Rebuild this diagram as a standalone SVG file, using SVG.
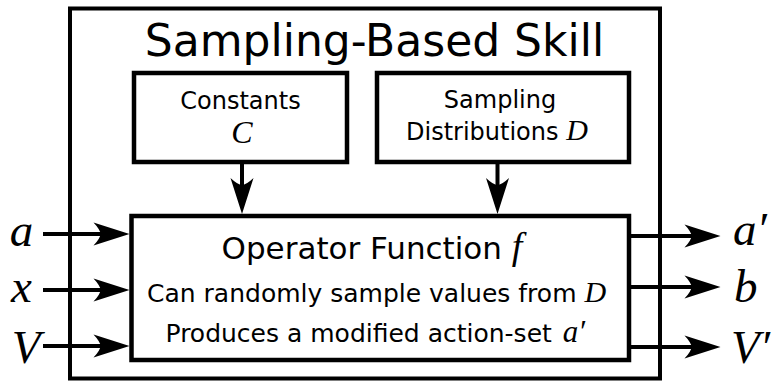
<svg xmlns="http://www.w3.org/2000/svg" xmlns:xlink="http://www.w3.org/1999/xlink" width="782" height="381" viewBox="0 0 782 381">
  <style>
    .box { fill: #ffffff; stroke: #000000; stroke-width: 4.5; }
    .outer { fill: none; stroke: #000000; stroke-width: 4; }
    .line { fill: none; stroke: #000000; stroke-width: 4; }
    .sans { font-family: "DejaVu Sans", sans-serif; fill: #000000; }
    .math { font-family: "Liberation Serif", serif; font-style: italic; fill: #000000; }
  </style>
  <defs>
    <path id="ah" d="M0,0 L-36,-11.5 Q-29,-4 -29,0 Q-29,4 -36,11.5 Z" fill="#000000"/>
  </defs>
  <rect x="0" y="0" width="782" height="381" fill="#ffffff"/>

  <g id="skill">
    <rect class="outer" x="70" y="8.5" width="590" height="370"/>
    <text class="sans" x="374.5" y="56" font-size="44" text-anchor="middle">Sampling-Based Skill</text>
  </g>

  <g id="connectors">
    <line class="line" x1="242" y1="164" x2="242" y2="186"/>
    <use xlink:href="#ah" transform="translate(242,214) rotate(90)"/>
    <line class="line" x1="497.5" y1="164" x2="497.5" y2="186"/>
    <use xlink:href="#ah" transform="translate(497.5,214) rotate(90)"/>

    <line class="line" x1="43" y1="234" x2="101" y2="234"/>
    <use xlink:href="#ah" transform="translate(129.5,234)"/>
    <line class="line" x1="43" y1="290" x2="101" y2="290"/>
    <use xlink:href="#ah" transform="translate(129.5,290)"/>
    <line class="line" x1="43" y1="346" x2="101" y2="346"/>
    <use xlink:href="#ah" transform="translate(129.5,346)"/>

    <line class="line" x1="629" y1="236" x2="692" y2="236"/>
    <use xlink:href="#ah" transform="translate(720.5,236)"/>
    <line class="line" x1="629" y1="287" x2="692" y2="287"/>
    <use xlink:href="#ah" transform="translate(720.5,287)"/>
    <line class="line" x1="629" y1="347" x2="692" y2="347"/>
    <use xlink:href="#ah" transform="translate(720.5,347)"/>
  </g>

  <g id="constants">
    <rect class="box" x="134" y="73" width="213" height="89"/>
    <text class="sans" x="240.5" y="109" font-size="24" text-anchor="middle">Constants</text>
    <text class="math" x="242" y="143" font-size="32" text-anchor="middle">C</text>
  </g>

  <g id="distributions">
    <rect class="box" x="377" y="73" width="252" height="89"/>
    <text class="sans" x="500" y="108" font-size="24" text-anchor="middle">Sampling</text>
    <text class="sans" x="406" y="140" font-size="24">Distributions <tspan class="math" font-size="30">D</tspan></text>
  </g>

  <g id="operator">
    <rect class="box" x="131.5" y="216" width="497.5" height="144"/>
    <text class="sans" x="221.5" y="259" font-size="31">Operator Function <tspan class="math" font-size="38">f</tspan></text>
    <text class="sans" x="147" y="302" font-size="25">Can randomly sample values from <tspan class="math" font-size="30">D</tspan></text>
    <text class="sans" x="165.5" y="341.5" font-size="25">Produces a modified action-set <tspan class="math" font-size="31" dx="3">a′</tspan></text>
  </g>

  <g id="inputs">
    <text class="math" x="21.5" y="246" font-size="47" text-anchor="middle">a</text>
    <text class="math" x="21.5" y="301.5" font-size="47" text-anchor="middle">x</text>
    <text class="math" x="26" y="363" font-size="47" text-anchor="middle">V</text>
  </g>

  <g id="outputs">
    <text class="math" x="733" y="245" font-size="47">a′</text>
    <text class="math" x="734" y="302" font-size="47">b</text>
    <text class="math" x="731" y="363" font-size="47">V′</text>
  </g>
</svg>
